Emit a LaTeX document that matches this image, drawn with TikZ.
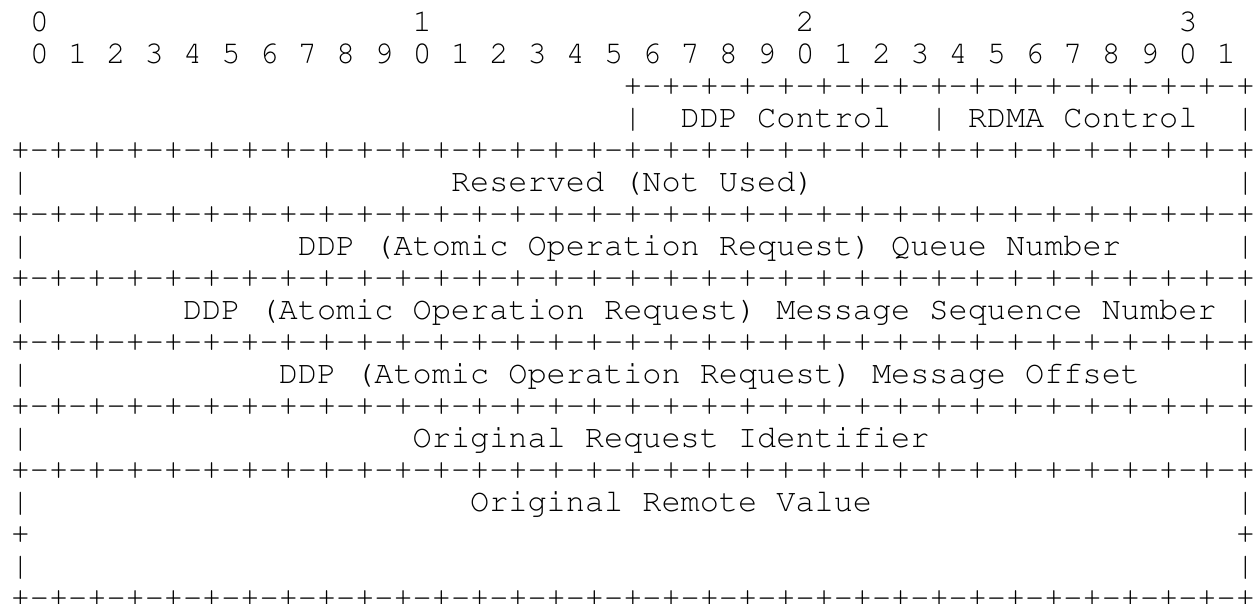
\documentclass[tikz,border=0pt]{standalone}
\usepackage[T1]{fontenc}
\newcommand{\asciitext}{\fontfamily{pcr}\fontseries{m}\fontshape{n}\fontsize{15.95pt}{16pt}\selectfont}
\newcommand{\fullborder}{+-+-+-+-+-+-+-+-+-+-+-+-+-+-+-+-+-+-+-+-+-+-+-+-+-+-+-+-+-+-+-+-+}
\newcommand{\halfborder}{+-+-+-+-+-+-+-+-+-+-+-+-+-+-+-+-+}

\begin{document}
\begin{tikzpicture}
%Atomic response header layout
	[
	 %Styles
	 x=9.57pt, y=-16pt,
	 ascii/.style={font=\asciitext, inner sep=0pt, anchor=base west}
	]
	\useasboundingbox (-5.2pt,15.85pt) rectangle (621.3pt,-286.15pt);

	%Bit numbering
	\node (tens0) [ascii] at (1,0) {0};
	\node (tens1) [ascii] at (21,0) {1};
	\node (tens2) [ascii] at (41,0) {2};
	\node (tens3) [ascii] at (61,0) {3};
	\node (units) [ascii] at (1,1) {0 1 2 3 4 5 6 7 8 9 0 1 2 3 4 5 6 7 8 9 0 1 2 3 4 5 6 7 8 9 0 1};

	%Control word
	\node (ctltop) [ascii] at (32,2) {\halfborder};
	\node (ctlleft) [ascii] at (32,3) {|};
	\node (ddpctl) [ascii] at (35,3) {DDP Control};
	\node (ctlmid) [ascii] at (48,3) {|};
	\node (rdmactl) [ascii] at (50,3) {RDMA Control};
	\node (ctlright) [ascii] at (64,3) {|};

	%Borders and side walls
	\foreach \r in {4,6,8,10,12,14,18}
		\node (border\r) [ascii] at (0,\r) {\fullborder};
	\foreach \r in {5,7,9,11,13,15,17}{
		\node (lwall\r) [ascii] at (0,\r) {|};
		\node (rwall\r) [ascii] at (64,\r) {|};
	}
	\node (lcorner16) [ascii] at (0,16) {+};
	\node (rcorner16) [ascii] at (64,16) {+};

	%Fields
	\node (reserved) [ascii] at (23,5) {Reserved (Not Used)};
	\node (queue) [ascii] at (15,7) {DDP (Atomic Operation Request) Queue Number};
	\node (msn) [ascii] at (9,9) {DDP (Atomic Operation Request) Message Sequence Number};
	\node (mo) [ascii] at (14,11) {DDP (Atomic Operation Request) Message Offset};
	\node (origid) [ascii] at (21,13) {Original Request Identifier};
	\node (origval) [ascii] at (24,15) {Original Remote Value};
\end{tikzpicture}
\end{document}
